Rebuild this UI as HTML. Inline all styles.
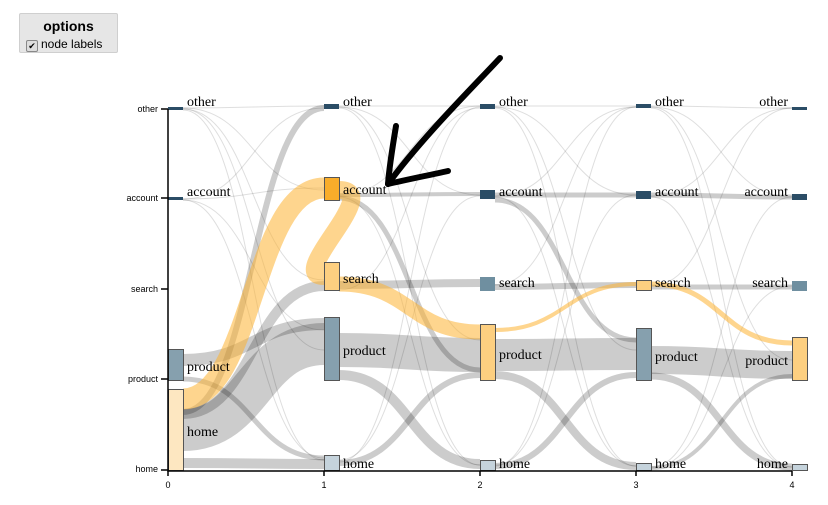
<!DOCTYPE html>
<html><head><meta charset="utf-8"><style>
body{margin:0;background:#fff;width:828px;height:505px;overflow:hidden;position:relative;font-family:"Liberation Sans",sans-serif}
.opt{position:absolute;left:19px;top:13px;width:97px;height:38px;background:#e6e6e6;border:1px solid #cfcfcf;border-radius:2px}
.opt .t{font-weight:bold;font-size:14px;text-align:center;margin-top:4px;line-height:16px}
.opt .c{font-size:12px;margin-left:6px;line-height:14px;margin-top:3px}
.cb{display:inline-block;width:10px;height:10px;border:1px solid #888;background:#ddd;border-radius:2px;font-size:9px;line-height:10px;text-align:center;vertical-align:-1px;margin-right:3px}
svg{position:absolute;left:0;top:0}
.nl{font-family:"Liberation Serif",serif;font-size:14px;fill:#000}
.ax{font-family:"Liberation Sans",sans-serif;font-size:9px}
</style></head><body>
<div class="opt"><div class="t">options</div><div class="c"><span class="cb">✔</span>node labels</div></div>
<svg width="828" height="505" viewBox="0 0 828 505">
<g fill="none" stroke="rgba(0,0,0,0.13)" stroke-width="1">
<path d="M183,108 C253,108 253,106 324,106"/><path d="M183,108 C253,108 253,190 324,190"/><path d="M183,109 C253,109 253,280 324,280"/><path d="M183,109 C253,109 253,350 324,350"/><path d="M183,110 C253,110 253,460 324,460"/>
<path d="M183,199 C253,199 253,188 324,188"/><path d="M183,199 C253,199 253,108 324,108"/><path d="M183,200 C253,200 253,330 324,330"/><path d="M183,200 C253,200 253,458 324,458"/>
<path d="M339,106 C410,106 410,106 480,106"/><path d="M339,107 C410,107 410,195 480,195"/><path d="M339,107 C410,107 410,340 480,340"/><path d="M339,108 C410,108 410,465 480,465"/>
<path d="M339,195 C410,195 410,106 480,106"/><path d="M339,197 C410,197 410,465 480,465"/><path d="M339,290 C410,290 410,108 480,108"/><path d="M339,460 C410,460 410,196 480,196"/><path d="M339,462 C410,462 410,107 480,107"/>
<path d="M495,106 C565,106 565,106 636,106"/><path d="M495,107 C565,107 565,195 636,195"/><path d="M495,107 C565,107 565,350 636,350"/><path d="M495,108 C565,108 565,466 636,466"/><path d="M495,196 C565,196 565,107 636,107"/><path d="M495,197 C565,197 565,466 636,466"/><path d="M495,285 C565,285 565,107 636,107"/><path d="M495,465 C565,465 565,195 636,195"/><path d="M495,466 C565,466 565,107 636,107"/>
<path d="M651,106 C721,106 721,108 792,108"/><path d="M651,107 C721,107 721,197 792,197"/><path d="M651,107 C721,107 721,360 792,360"/><path d="M651,108 C721,108 721,467 792,467"/><path d="M651,196 C721,196 721,108 792,108"/><path d="M651,197 C721,197 721,467 792,467"/><path d="M651,286 C721,286 721,108 792,108"/><path d="M651,467 C721,467 721,197 792,197"/><path d="M651,468 C721,468 721,286 792,286"/>
</g>
<g fill="none" stroke="rgba(0,0,0,0.2)">
<path d="M183,430 C253,430 253,344 324,344" stroke-width="42"/>
<path d="M183,463 C253,463 253,464 324,464" stroke-width="10"/>
<path d="M183,360 C253,360 253,324 324,324" stroke-width="12"/>
<path d="M183,379 C253,379 253,458 324,458" stroke-width="5"/>
<path d="M183,414 C253,414 253,286 324,286" stroke-width="10"/>
<path d="M183,412 C253,412 253,108 324,108" stroke-width="6"/>
<path d="M339,350 C410,350 410,355 480,355" stroke-width="34"/>
<path d="M339,285 C410,285 410,283 480,283" stroke-width="8"/>
<path d="M339,375 C410,375 410,464 480,464" stroke-width="10"/>
<path d="M339,463 C410,463 410,375 480,375" stroke-width="6"/>
<path d="M339,195 C410,195 410,194 480,194" stroke-width="4"/>
<path d="M339,198 C410,198 410,370 480,370" stroke-width="5"/>
<path d="M495,355 C565,355 565,354 636,354" stroke-width="32"/>
<path d="M495,287 C565,287 565,285 636,285" stroke-width="6"/>
<path d="M495,375 C565,375 565,466 636,466" stroke-width="8"/>
<path d="M495,466 C565,466 565,375 636,375" stroke-width="6"/>
<path d="M495,195 C565,195 565,195 636,195" stroke-width="5"/>
<path d="M495,200 C565,200 565,340 636,340" stroke-width="5"/>
<path d="M651,360 C721,360 721,365 792,365" stroke-width="28"/>
<path d="M651,287 C721,287 721,287 792,287" stroke-width="5"/>
<path d="M651,376 C721,376 721,467 792,467" stroke-width="7"/>
<path d="M651,195 C721,195 721,197 792,197" stroke-width="5"/>
<path d="M651,468 C721,468 721,376 792,376" stroke-width="4"/>
</g>
<g fill="none" stroke="rgba(253,178,50,0.55)">
<path d="M183,399 C253,399 253,188 324,188" stroke-width="21"/>
<path d="M339,190 C385,190 285,276 324,276" stroke-width="18"/>
<path d="M339,284 C410,284 410,332 480,332" stroke-width="15"/>
<path d="M495,330 C565,330 565,284 636,284" stroke-width="4"/>
<path d="M651,284 C721,284 721,343 792,343" stroke-width="5"/>
</g>
<g stroke="#555" stroke-width="1">
<rect x="168" y="107" width="15" height="3" fill="#2b4d66" stroke="none"/>
<rect x="168" y="197" width="15" height="3" fill="#2b4d66" stroke="none"/>
<rect x="168.5" y="349.5" width="15" height="31" fill="#86a0ae"/>
<rect x="168.5" y="389.5" width="15" height="81" fill="#fde7c1"/>
<rect x="324" y="104" width="15" height="5" fill="#2b4d66" stroke="none"/>
<rect x="324.5" y="177.5" width="15" height="23" fill="#f9ad2a"/>
<rect x="324.5" y="262.5" width="15" height="28" fill="#fdcf80"/>
<rect x="324.5" y="317.5" width="15" height="63" fill="#86a0ae"/>
<rect x="324.5" y="455.5" width="15" height="15" fill="#c5d3dc"/>
<rect x="480" y="104" width="15" height="5" fill="#2b4d66" stroke="none"/>
<rect x="480" y="190" width="15" height="9" fill="#2b4d66" stroke="none"/>
<rect x="480" y="277" width="15" height="14" fill="#6f8fa0" stroke="none"/>
<rect x="480.5" y="324.5" width="15" height="56" fill="#fdcf80"/>
<rect x="480.5" y="460.5" width="15" height="10" fill="#c5d3dc"/>
<rect x="636" y="104" width="15" height="4" fill="#2b4d66" stroke="none"/>
<rect x="636" y="191" width="15" height="8" fill="#2b4d66" stroke="none"/>
<rect x="636.5" y="280.5" width="15" height="10" fill="#fdcf80"/>
<rect x="636.5" y="328.5" width="15" height="52" fill="#86a0ae"/>
<rect x="636.5" y="463.5" width="15" height="7" fill="#c5d3dc"/>
<rect x="792" y="107" width="15" height="3" fill="#2b4d66" stroke="none"/>
<rect x="792" y="194" width="15" height="6" fill="#2b4d66" stroke="none"/>
<rect x="792" y="281" width="15" height="10" fill="#6f8fa0" stroke="none"/>
<rect x="792.5" y="337.5" width="15" height="43" fill="#fdcf80"/>
<rect x="792.5" y="464.5" width="15" height="6" fill="#c5d3dc"/>
</g>
<g class="nl">
<text x="187" y="106">other</text><text x="187" y="196">account</text><text x="187" y="371">product</text><text x="187" y="436">home</text>
<text x="343" y="106">other</text><text x="343" y="194">account</text><text x="343" y="283">search</text><text x="343" y="355">product</text><text x="343" y="468">home</text>
<text x="499" y="106">other</text><text x="499" y="196">account</text><text x="499" y="287">search</text><text x="499" y="359">product</text><text x="499" y="468">home</text>
<text x="655" y="106">other</text><text x="655" y="196">account</text><text x="655" y="287">search</text><text x="655" y="361">product</text><text x="655" y="468">home</text>
<text x="788" y="106" text-anchor="end">other</text><text x="788" y="196" text-anchor="end">account</text><text x="788" y="287" text-anchor="end">search</text><text x="788" y="365" text-anchor="end">product</text><text x="788" y="468" text-anchor="end">home</text>
</g>
<g stroke="#000" stroke-width="1.5" fill="none">
<path d="M168,109 V471 H792"/>
<path d="M161,109 H168 M161,198 H168 M161,289 H168 M161,379 H168 M161,470 H168"/>
<path d="M168,471 V476 M324,471 V476 M480,471 V476 M636,471 V476 M792,471 V476"/>
</g>
<g class="ax">
<text x="158" y="112" text-anchor="end">other</text><text x="158" y="201" text-anchor="end">account</text><text x="158" y="292" text-anchor="end">search</text><text x="158" y="382" text-anchor="end">product</text><text x="158" y="472" text-anchor="end">home</text>
<text x="168" y="488" text-anchor="middle">0</text><text x="324" y="488" text-anchor="middle">1</text><text x="480" y="488" text-anchor="middle">2</text><text x="636" y="488" text-anchor="middle">3</text><text x="792" y="488" text-anchor="middle">4</text>
</g>
<g stroke="#000" stroke-width="6" fill="none" stroke-linecap="round" stroke-linejoin="round">
<path d="M500,58 C470,90 420,140 388,184"/>
<path d="M396,126 C392,150 389,170 388,184"/>
<path d="M448,171 C425,176 405,180 388,184"/>
</g>
</svg>
</body></html>
